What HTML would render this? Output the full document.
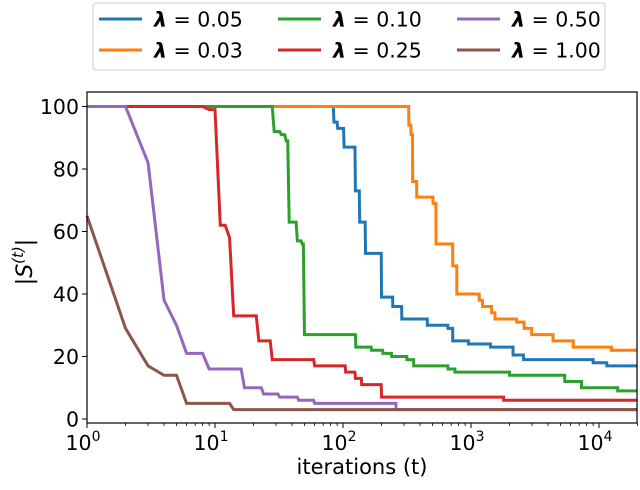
<!DOCTYPE html>
<html><head><meta charset="utf-8"><style>
body{margin:0;background:#fff;}
svg text{font-family:"DejaVu Sans","Liberation Sans",sans-serif;fill:#000;}
</style></head><body>
<svg id="chart" width="640" height="485" xmlns="http://www.w3.org/2000/svg"></svg>
<script>
const lambdas=["0.05","0.03","0.10","0.25","0.50","1.00"];
const colors=["#1f77b4","#ff7f0e","#2ca02c","#d62728","#9467bd","#8c564b"];
const tBlue=[1,85,91,102,125,135,150,200,245,288,456,660,720,955,1420,2130,2570,9000,11500];
const vBlue=[100,95,93,87,73,63,53,39,36,32,30,29,25,24,23,20.5,19,18,17];
const tOrange=[1,327,340,350,377,505,533,720,775,1160,1230,1450,1540,2275,2600,2980,4370,6300,12500];
const vOrange=[100,94,91,76,71,69,56,49,40,38,36,34,32,31,29,27,25,23,22];
const tGreen=[1,29,33,36,38,44,48,50,126,167,205,240,316,357,660,750,2000,5400,7300,14000];
const vGreen=[100,92,91,89,63,57,56,27,23,22,21,20,19,17,16,15,14,12,10,9];
const tRed=[1,9,11,13,14,22,28,60,105,125,140,200,1800];
const vRed=[100,99,62,58,33,25,19,17,15,13,11,7,6];
const tPurple=[1,3,4,5,6,9,17,24,32,45,60,260];
const vPurple=[100,82,38,30,21,16,10,8,7,6,5,3];
const tBrown=[1,2,3,4,6,14];
const vBrown=[65,29,17,14,5,3];
const yTicks=[0,20,40,60,80,100];
const xDecades=[0,1,2,3,4];
const tMax=20000;

const svg=document.getElementById('chart');
const NS="http://www.w3.org/2000/svg";
const L=87,R=637,T=92,B=423;
const xs=t=>L+Math.log10(t)*128;
const ys=v=>419-v*3.125;
function mk(tag,attrs,parent){const e=document.createElementNS(NS,tag);for(const k in attrs)e.setAttribute(k,attrs[k]);(parent||svg).appendChild(e);return e;}

const series=[[tBlue,vBlue],[tOrange,vOrange],[tGreen,vGreen],[tRed,vRed],[tPurple,vPurple],[tBrown,vBrown]];
const plot=mk('g',{});


series.forEach((s,i)=>{
  const ts=s[0],vs=s[1];
  let pts=[[xs(ts[0]),ys(vs[0])]];
  for(let k=1;k<ts.length;k++){
    const hold=Math.max(ts[k]-1,ts[k-1]);
    pts.push([xs(hold),ys(vs[k-1])]);
    pts.push([xs(ts[k]),ys(vs[k])]);
  }
  pts.push([xs(tMax),ys(vs[vs.length-1])]);
  const p=mk('polyline',{points:pts.map(p=>p[0].toFixed(2)+','+p[1].toFixed(2)).join(' '),fill:'none',stroke:colors[i],'stroke-width':3,'stroke-linejoin':'miter'},plot);
  
  
});

const frame=mk('rect',{x:L,y:T,width:R-L,height:B-T,fill:'none',stroke:'#000','stroke-width':1.2});



yTicks.forEach(v=>{
  const y=ys(v);
  const tk=mk('line',{x1:L-5,x2:L,y1:y,y2:y,stroke:'#000','stroke-width':1});
  
  
  const tx=mk('text',{x:L-8,y:y+7.5,'text-anchor':'end','font-size':20.5});
  tx.textContent=v;
  
  
});
xDecades.forEach(d=>{
  const x=xs(Math.pow(10,d));
  const tk=mk('line',{x1:x,x2:x,y1:B,y2:B+5,stroke:'#000','stroke-width':1});
  
  
  const tx=mk('text',{x:x-4,y:B+27,'text-anchor':'middle','font-size':20.5});
  tx.textContent='10';
  const sup=mk('tspan',{dy:-9,'font-size':14},tx);
  sup.textContent=d;
  
  
  for(let m=2;m<=9;m++){
    const t=m*Math.pow(10,d);
    if(t>tMax)break;
    const mt=mk('line',{x1:xs(t),x2:xs(t),y1:B,y2:B+3,stroke:'#000','stroke-width':0.8});
    
    
  }
});
const xl=mk('text',{x:362,y:474,'text-anchor':'middle','font-size':21});
xl.textContent='iterations (t)';


const yl=mk('text',{x:0,y:0,'text-anchor':'middle','font-size':22,transform:'translate(32,262) rotate(-90)'});
const yb=mk('tspan',{},yl);yb.textContent='|';
const ys1=mk('tspan',{'font-style':'italic'},yl);ys1.textContent='S';
const ysup=mk('tspan',{dy:-9,'font-size':15,'font-style':'italic'},yl);ysup.textContent='(t)';
const yend=mk('tspan',{dy:9},yl);yend.textContent='|';



const leg=mk('g',{});


const lb=mk('rect',{x:93,y:3,width:512,height:67,rx:3,fill:'#fff',stroke:'#ccc','stroke-width':1},leg);


const colX=[99,278,457],rowY=[19,50];
lambdas.forEach((lam,i)=>{
  const c=Math.floor(i/2),r=i%2;
  const ln=mk('line',{x1:colX[c],x2:colX[c]+43,y1:rowY[r],y2:rowY[r],stroke:colors[i],'stroke-width':3},leg);
  
  
  const tx=mk('text',{x:colX[c]+55,y:rowY[r]+7.5,'font-size':20.5},leg);
  const it=mk('tspan',{'font-style':'italic','font-weight':'bold'},tx);it.textContent='λ';
  const rest=mk('tspan',{},tx);rest.textContent=' = '+lam;
  
  
});
</script>
</body></html>
